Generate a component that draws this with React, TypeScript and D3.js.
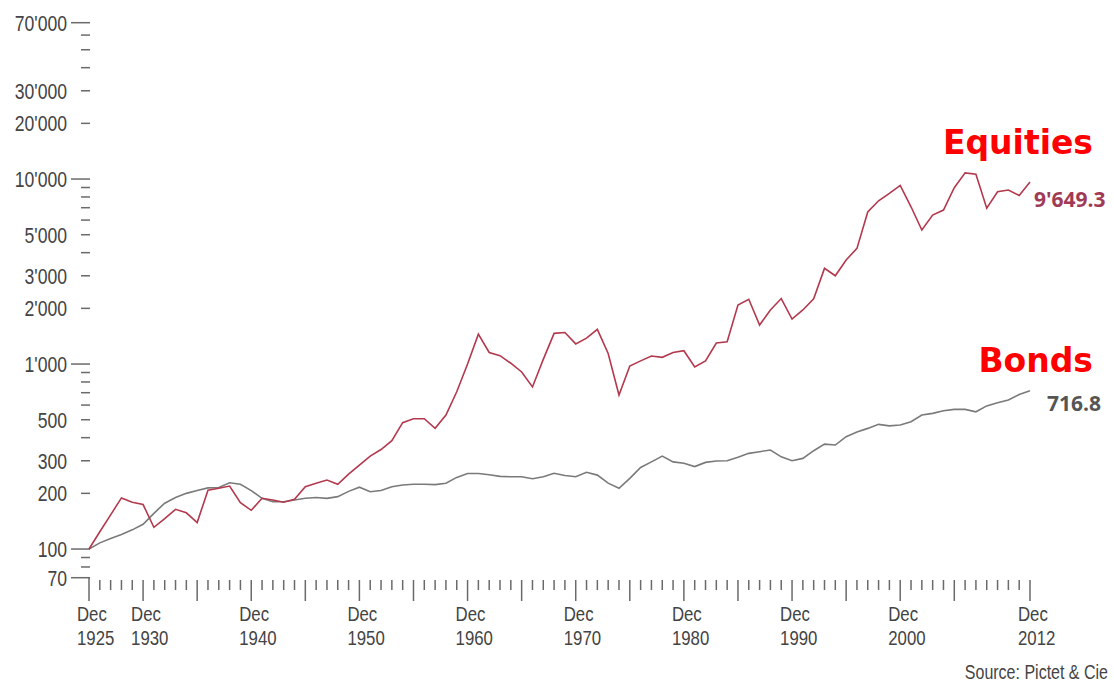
import { useEffect, useRef } from 'react';
import * as d3 from 'd3';

// Performance of Swiss equities and bonds, Dec 1925 = 100 (log scale)
const years = d3.range(1925, 2013);

const equities = [
  100, 124, 153, 189, 179, 174, 131, 146, 164, 157,
  139, 208, 213, 219, 178, 162, 188, 184, 179, 186,
  217, 227, 236, 224, 254, 284, 318, 345, 385, 482,
  506, 506, 449, 530, 708, 1000, 1450, 1155, 1110, 1010,
  906, 752, 1060, 1465, 1480, 1285, 1380, 1540, 1140, 680,
  975, 1040, 1105, 1087, 1155, 1180, 965, 1040, 1300, 1320,
  2085, 2240, 1625, 1960, 2260, 1750, 1960, 2250, 3290, 3000,
  3650, 4220, 6640, 7630, 8360, 9240, 7080, 5300, 6380, 6800,
  8980, 10800, 10630, 6950, 8530, 8720, 8160, 9649.3,
];

const bonds = [
  100, 108, 114, 120, 127, 136, 156, 177, 190, 200,
  207, 214, 215, 228, 224, 207, 188, 180, 180, 184,
  188, 190, 188, 192, 205, 216, 204, 207, 217, 222,
  224, 224, 223, 227, 244, 256, 256, 252, 247, 246,
  246, 240, 246, 257, 250, 246, 260, 251, 227, 213,
  241, 276, 296, 318, 296, 291, 279, 294, 299, 300,
  313, 329, 336, 343, 315, 300, 309, 340, 369, 365,
  405, 429, 449, 472, 463, 468, 488, 530, 541, 559,
  569, 569, 552, 594, 618, 639, 685, 716.8,
];

const yTickValues = [
  70, 80, 90, 100, 200, 300, 400, 500, 600, 700, 800, 900,
  1000, 2000, 3000, 4000, 5000, 6000, 7000, 8000, 9000,
  10000, 20000, 30000, 40000, 50000, 60000, 70000,
];
const yLongTicks = [70, 100, 1000, 10000, 70000];
const yLabels = [70, 100, 200, 300, 500, 1000, 2000, 3000, 5000, 10000, 20000, 30000, 70000];
const xMajorTicks = [1925, 1930, 1935, 1940, 1945, 1950, 1955, 1960, 1965, 1970, 1975, 1980, 1985, 1990, 1995, 2000, 2005, 2012];
const xLabels = [1925, 1930, 1940, 1950, 1960, 1970, 1980, 1990, 2000, 2012];

const condensedFont = "'Liberation Sans', Arial, sans-serif";
const squeeze = 0.8; // fake a condensed face by narrowing glyphs

export default function App() {
  const svgRef = useRef<SVGSVGElement>(null);

  useEffect(() => {
    if (!svgRef.current) return;
    const svg = d3.select(svgRef.current);
    svg.selectAll("*").remove();

    const x = d3.scaleLinear().domain([1925, 2012]).range([89, 1030]);
    const y = d3.scaleLog().domain([70, 70000]).range([577.7, 22.7]);

    const fmt = (v: number) => d3.format(",")(v).replace(/,/g, "'");

    const narrowText = (
      px: number, py: number, txt: string,
      anchor = "start", size = 22,
    ) =>
      svg.append("text")
        .attr("transform", `translate(${px},${py}) scale(${squeeze},1)`)
        .attr("text-anchor", anchor)
        .attr("font-family", condensedFont)
        .attr("font-size", size)
        .attr("fill", "#444")
        .text(txt);

    // y ticks
    svg.append("g")
      .selectAll("line")
      .data(yTickValues)
      .enter().append("line")
      .attr("x1", d => (yLongTicks.includes(d) ? 71 : 81))
      .attr("x2", 90)
      .attr("y1", d => y(d))
      .attr("y2", d => y(d))
      .attr("stroke", "#6a6a6a")
      .attr("stroke-width", 1.5);

    yLabels.forEach(d => narrowText(67, y(d) + 8, fmt(d), "end"));

    // x ticks
    svg.append("g")
      .selectAll("line")
      .data(years)
      .enter().append("line")
      .attr("x1", d => x(d))
      .attr("x2", d => x(d))
      .attr("y1", d => (d === 1925 ? 577.7 : 580))
      .attr("y2", d => (xMajorTicks.includes(d) ? 601 : 590))
      .attr("stroke", "#6a6a6a")
      .attr("stroke-width", 1.5);

    xLabels.forEach(d => {
      narrowText(x(d) - 12, 621, "Dec", "start", 21);
      narrowText(x(d) - 12, 645, String(d), "start", 21);
    });

    // lines
    const line = d3.line<number>()
      .x((d, i) => x(years[i]))
      .y(d => y(d));

    svg.append("path")
      .datum(bonds)
      .attr("fill", "none")
      .attr("stroke", "#7a7a7a")
      .attr("stroke-width", 1.6)
      .attr("d", line);

    svg.append("path")
      .datum(equities)
      .attr("fill", "none")
      .attr("stroke", "#b3394d")
      .attr("stroke-width", 1.6)
      .attr("d", line);

    // series labels
    const last = years.length - 1;
    svg.append("text")
      .attr("x", 1093).attr("y", 154)
      .attr("text-anchor", "end")
      .attr("font-family", "'DejaVu Sans', sans-serif")
      .attr("font-weight", "bold")
      .attr("font-size", 33)
      .attr("fill", "#ff0000")
      .text("Equities");
    svg.append("text")
      .attr("x", 1093).attr("y", 372)
      .attr("text-anchor", "end")
      .attr("font-family", "'DejaVu Sans', sans-serif")
      .attr("font-weight", "bold")
      .attr("font-size", 33)
      .attr("fill", "#ff0000")
      .text("Bonds");

    svg.append("text")
      .attr("x", x(years[last]) + 4)
      .attr("y", y(equities[last]) + 25)
      .attr("font-family", "'Open Sans', sans-serif")
      .attr("font-weight", "bold")
      .attr("font-size", 21)
      .attr("fill", "#a03a55")
      .text(fmt(equities[last]));
    svg.append("text")
      .attr("x", x(years[last]) + 17)
      .attr("y", y(bonds[last]) + 20)
      .attr("font-family", "'Open Sans', sans-serif")
      .attr("font-weight", "bold")
      .attr("font-size", 21)
      .attr("fill", "#555")
      .text(fmt(bonds[last]));

    narrowText(1108, 679, "Source: Pictet & Cie", "end", 20);
  }, []);

  return (
    <div style={{ position: 'absolute', left: 0, top: 0 }}>
      <svg ref={svgRef} width={1114} height={684} style={{ display: 'block', background: '#fff' }} />
    </div>
  );
}
